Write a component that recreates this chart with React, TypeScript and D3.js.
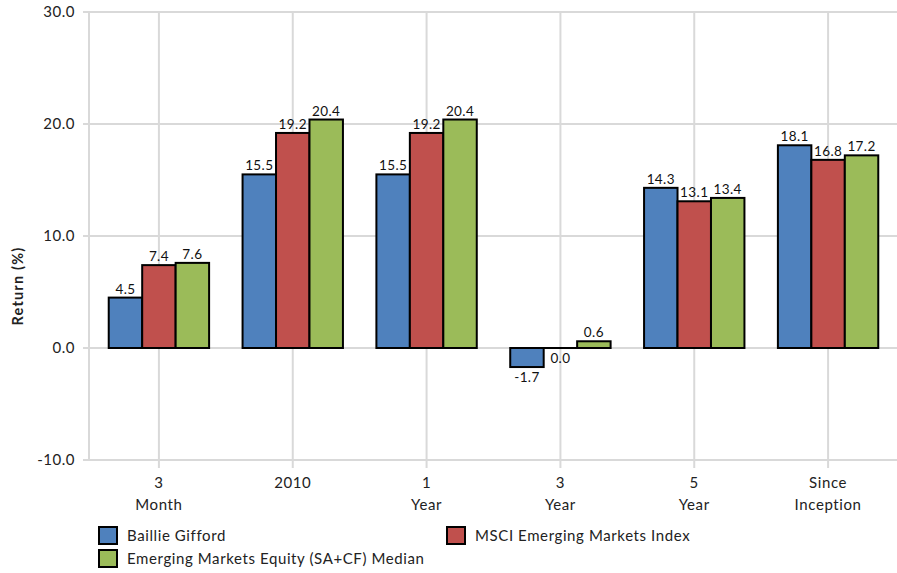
import { useEffect, useRef } from 'react'
import * as d3 from 'd3'

// Chart data
const CATEGORIES = ['3\nMonth', '2010', '1\nYear', '3\nYear', '5\nYear', 'Since\nInception']
const SERIES = ['Baillie Gifford', 'MSCI Emerging Markets Index', 'Emerging Markets Equity (SA+CF) Median']
const BAILLIE = [4.5, 15.5, 15.5, -1.7, 14.3, 18.1]
const MSCI = [7.4, 19.2, 19.2, 0.0, 13.1, 16.8]
const MEDIAN = [7.6, 20.4, 20.4, 0.6, 13.4, 17.2]
const Y_TICKS = [-10, 0, 10, 20, 30]

const COLORS = ['#4f81bd', '#c0504d', '#9bbb59']
const FONT = 'Lato, "Open Sans", sans-serif'

export default function App() {
  const svgRef = useRef<SVGSVGElement>(null)
  const width = 897
  const height = 573

  useEffect(() => {
    if (!svgRef.current) return
    const svg = d3.select(svgRef.current)
    svg.selectAll('*').remove()

    const left = 89
    const y = d3.scaleLinear().domain([-10, 30]).range([460, 12])
    const x = d3.scaleBand().domain(CATEGORIES).range([92, 895]).paddingInner(0).paddingOuter(0)
    const inner = d3.scaleBand().domain(SERIES).range([0, x.bandwidth()]).paddingInner(0).paddingOuter(0.5)

    const grid = '#d9d9d9'

    // horizontal grid
    svg.append('g')
      .selectAll('line')
      .data(Y_TICKS)
      .join('line')
      .attr('x1', left - 6)
      .attr('x2', width)
      .attr('y1', d => y(d))
      .attr('y2', d => y(d))
      .attr('stroke', grid)
      .attr('stroke-width', 2)

    // vertical grid
    svg.append('g')
      .selectAll('line')
      .data(CATEGORIES)
      .join('line')
      .attr('x1', d => x(d)! + x.bandwidth() / 2)
      .attr('x2', d => x(d)! + x.bandwidth() / 2)
      .attr('y1', 12)
      .attr('y2', 468)
      .attr('stroke', grid)
      .attr('stroke-width', 2)

    // left axis line
    svg.append('line')
      .attr('x1', left).attr('x2', left)
      .attr('y1', 12).attr('y2', 460)
      .attr('stroke', grid).attr('stroke-width', 2)

    // y tick labels
    svg.append('g')
      .selectAll('text')
      .data(Y_TICKS)
      .join('text')
      .attr('x', 75)
      .attr('y', d => y(d))
      .attr('dy', '0.35em')
      .attr('text-anchor', 'end')
      .attr('font-family', FONT)
      .attr('font-size', 15)
      .attr('letter-spacing', 0.5)
      .attr('fill', '#222')
      .text(d => d.toFixed(1))

    // y title
    svg.append('text')
      .attr('transform', 'translate(23,286) rotate(-90)')
      .attr('text-anchor', 'middle')
      .attr('font-family', FONT)
      .attr('font-size', 14.5)
      .attr('font-weight', 'bold')
      .attr('letter-spacing', 1.2)
      .attr('fill', '#222')
      .text('Return (%)')

    // x labels
    const xl = svg.append('g')
      .selectAll('text')
      .data(CATEGORIES)
      .join('text')
      .attr('y', 488)
      .attr('text-anchor', 'middle')
      .attr('font-family', FONT)
      .attr('font-size', 15)
      .attr('letter-spacing', 0.6)
      .attr('fill', '#222')
    xl.each(function (d) {
      const t = d3.select(this)
      d.split('\n').forEach((ln, i) => {
        t.append('tspan')
          .attr('x', x(d)! + x.bandwidth() / 2)
          .attr('dy', i === 0 ? 0 : 22)
          .text(ln)
      })
    })

    // bars
    const data = [BAILLIE, MSCI, MEDIAN]
    data.forEach((vals, si) => {
      const g = svg.append('g')
      const rows = vals.map((v, i) => ({ v, c: CATEGORIES[i] }))
      g.selectAll('rect')
        .data(rows)
        .join('rect')
        .attr('x', d => x(d.c)! + inner(SERIES[si])!)
        .attr('width', inner.bandwidth())
        .attr('y', d => y(Math.max(0, d.v)))
        .attr('height', d => Math.max(0.01, Math.abs(y(d.v) - y(0))))
        .attr('fill', COLORS[si])
        .attr('stroke', '#000')
        .attr('stroke-width', 2)

      g.selectAll('text')
        .data(rows)
        .join('text')
        .attr('x', d => x(d.c)! + inner(SERIES[si])! + inner.bandwidth() / 2)
        .attr('y', d => d.v < 0 ? y(d.v) + 15 : d.v === 0 ? y(0) + 15 : y(d.v) - 4)
        .attr('text-anchor', 'middle')
        .attr('font-family', FONT)
        .attr('font-size', 13.5)
        .attr('letter-spacing', 0.4)
        .attr('fill', '#111')
        .text(d => d.v.toFixed(1))
    })

    // legend
    const legendPos = [
      { x: 99, y: 527 },
      { x: 447, y: 527 },
      { x: 99, y: 550 },
    ]
    SERIES.forEach((s, i) => {
      const p = legendPos[i]
      svg.append('rect')
        .attr('x', p.x).attr('y', p.y)
        .attr('width', 18).attr('height', 17)
        .attr('fill', COLORS[i])
        .attr('stroke', '#000').attr('stroke-width', 2)
      svg.append('text')
        .attr('x', p.x + 28).attr('y', p.y + 9)
        .attr('dy', '0.35em')
        .attr('font-family', FONT)
        .attr('font-size', 15)
        .attr('letter-spacing', 0.6)
        .attr('fill', '#222')
        .text(s)
    })
  }, [])

  return (
    <svg
      ref={svgRef}
      width={width}
      height={height}
      style={{ position: 'absolute', left: 0, top: 0, background: '#fff' }}
    />
  )
}
